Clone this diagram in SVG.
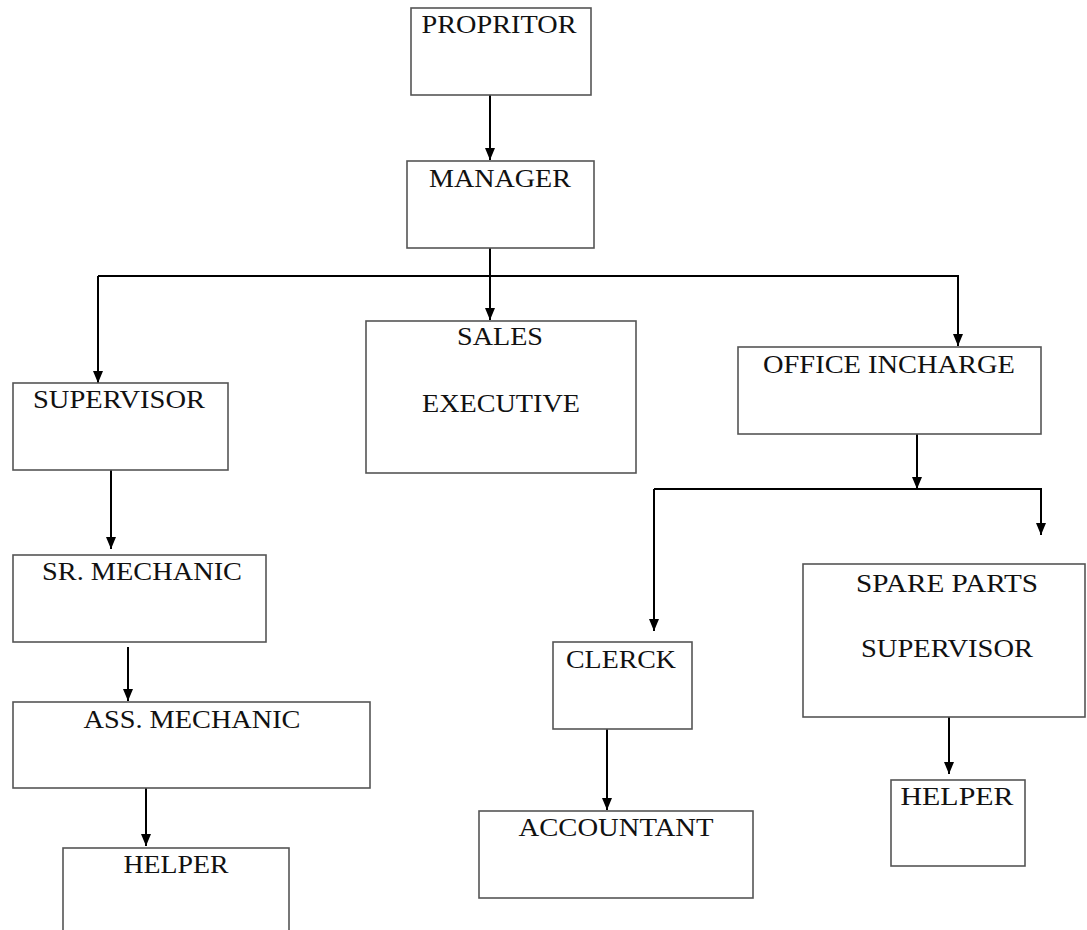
<svg xmlns="http://www.w3.org/2000/svg" width="1087" height="930" viewBox="0 0 1087 930">
<style>
.box{fill:#fff;stroke:#555;stroke-width:1.6}
.lbl{font-family:"Liberation Serif","Times New Roman",serif;font-size:26px;fill:#111;text-anchor:middle}
.con{fill:none;stroke:#000;stroke-width:2}
</style>
<defs>
<marker id="ah" viewBox="0 0 12 10" refX="12" refY="5" markerWidth="12" markerHeight="10" markerUnits="userSpaceOnUse" orient="auto">
<path d="M0,0 L12,5 L0,10 Z" fill="#000"/>
</marker>
</defs>
<rect width="1087" height="930" fill="#fff"/>
<g id="connectors">
<path class="con" d="M490,95 V160" marker-end="url(#ah)"/>
<path class="con" d="M490,248 V320" marker-end="url(#ah)"/>
<path class="con" d="M98,276 H958 V346" marker-end="url(#ah)"/>
<path class="con" d="M98,276 V383" marker-end="url(#ah)"/>
<path class="con" d="M917,434 V489" marker-end="url(#ah)"/>
<path class="con" d="M654,489 H1041 V535" marker-end="url(#ah)"/>
<path class="con" d="M654,489 V631" marker-end="url(#ah)"/>
<path class="con" d="M607,729 V810" marker-end="url(#ah)"/>
<path class="con" d="M949,717 V774" marker-end="url(#ah)"/>
<path class="con" d="M111,470 V549" marker-end="url(#ah)"/>
<path class="con" d="M128,647 V701" marker-end="url(#ah)"/>
<path class="con" d="M146,788 V846" marker-end="url(#ah)"/>
</g>
<g id="proprietor"><rect class="box" x="411" y="8" width="180" height="87"/><text class="lbl" x="499" y="33" textLength="155" lengthAdjust="spacingAndGlyphs">PROPRITOR</text></g>
<g id="manager"><rect class="box" x="407" y="161" width="187" height="87"/><text class="lbl" x="500" y="187" textLength="142" lengthAdjust="spacingAndGlyphs">MANAGER</text></g>
<g id="supervisor"><rect class="box" x="13" y="383" width="215" height="87"/><text class="lbl" x="119" y="408" textLength="172" lengthAdjust="spacingAndGlyphs">SUPERVISOR</text></g>
<g id="sales-executive"><rect class="box" x="366" y="321" width="270" height="152"/><text class="lbl" x="500" y="345" textLength="86" lengthAdjust="spacingAndGlyphs">SALES</text><text class="lbl" x="501" y="412" textLength="158" lengthAdjust="spacingAndGlyphs">EXECUTIVE</text></g>
<g id="office-incharge"><rect class="box" x="738" y="347" width="303" height="87"/><text class="lbl" x="889" y="373" textLength="252" lengthAdjust="spacingAndGlyphs">OFFICE INCHARGE</text></g>
<g id="sr-mechanic"><rect class="box" x="13" y="555" width="253" height="87"/><text class="lbl" x="142" y="580" textLength="200" lengthAdjust="spacingAndGlyphs">SR. MECHANIC</text></g>
<g id="ass-mechanic"><rect class="box" x="13" y="702" width="357" height="86"/><text class="lbl" x="192" y="728" textLength="217" lengthAdjust="spacingAndGlyphs">ASS. MECHANIC</text></g>
<g id="helper-left"><rect class="box" x="63" y="848" width="226" height="100"/><text class="lbl" x="176" y="873" textLength="105" lengthAdjust="spacingAndGlyphs">HELPER</text></g>
<g id="clerck"><rect class="box" x="553" y="642" width="139" height="87"/><text class="lbl" x="621" y="668" textLength="110" lengthAdjust="spacingAndGlyphs">CLERCK</text></g>
<g id="accountant"><rect class="box" x="479" y="811" width="274" height="87"/><text class="lbl" x="616" y="836" textLength="195" lengthAdjust="spacingAndGlyphs">ACCOUNTANT</text></g>
<g id="spare-parts-supervisor"><rect class="box" x="803" y="564" width="282" height="153"/><text class="lbl" x="947" y="592" textLength="182" lengthAdjust="spacingAndGlyphs">SPARE PARTS</text><text class="lbl" x="947" y="657" textLength="172" lengthAdjust="spacingAndGlyphs">SUPERVISOR</text></g>
<g id="helper-right"><rect class="box" x="891" y="780" width="134" height="86"/><text class="lbl" x="957" y="805" textLength="113" lengthAdjust="spacingAndGlyphs">HELPER</text></g>
</svg>
